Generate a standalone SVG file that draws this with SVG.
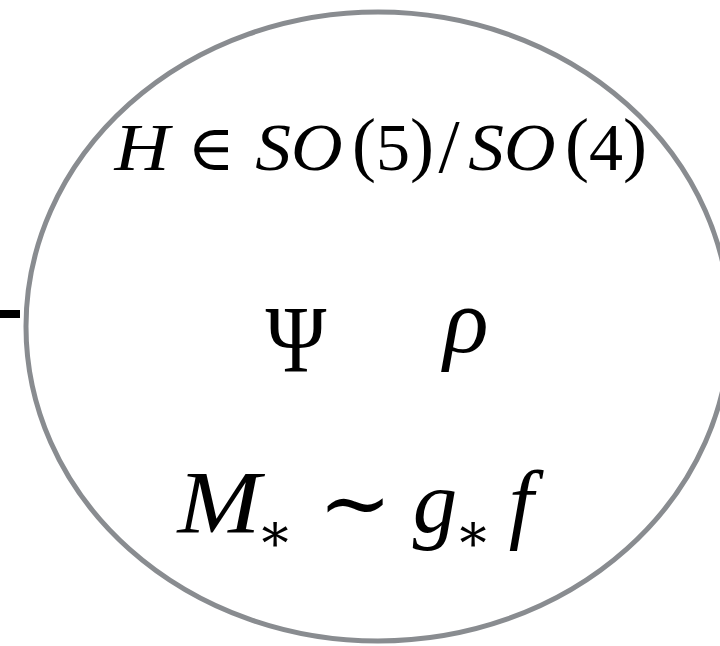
<svg xmlns="http://www.w3.org/2000/svg" width="720" height="646" viewBox="0 0 720 646">
<style>
.m{font-family:"Liberation Serif","DejaVu Serif",serif;fill:#000}
.i{font-style:italic}
.sym{font-family:"DejaVu Serif","Liberation Serif",serif;fill:#000}
.p{font-size:72px}
</style>
<rect width="720" height="646" fill="#fff"/>
<g id="connectors">
<line x1="0" y1="314" x2="20" y2="314" stroke="#000" stroke-width="8"/>
</g>
<g id="node-strong-sector">
<ellipse cx="378" cy="326.5" rx="352" ry="314.5" fill="none" stroke="#898c90" stroke-width="5"/>
<g font-size="68" text-anchor="middle">
<text class="m i" transform="translate(142,170) scale(1.12,1)">H</text>
<text class="sym" x="211" y="170" font-size="64">∈</text>
<text class="m i" transform="translate(299,170) scale(1.05,1)">SO</text>
<text class="m" x="393" y="170"><tspan class="p" dy="-2">(</tspan><tspan dy="2">5</tspan><tspan class="p" dy="-2">)</tspan></text>
<text class="m" x="449" y="172" font-size="76">/</text>
<text class="m i" transform="translate(512,170) scale(1.05,1)">SO</text>
<text class="m" x="606" y="170"><tspan class="p" dy="-2">(</tspan><tspan dy="2">4</tspan><tspan class="p" dy="-2">)</tspan></text>
</g>
<text class="m" transform="translate(296,372) scale(0.86,1)" font-size="96" text-anchor="middle">Ψ</text>
<text class="m i" x="466" y="352" font-size="94" text-anchor="middle">ρ</text>
<text class="m i" transform="translate(219,532) scale(1.12,1)" font-size="89" text-anchor="middle">M</text>
<text class="sym" x="275" y="551" font-size="54" text-anchor="middle">∗</text>
<text class="sym" x="355" y="533" font-size="88" text-anchor="middle">∼</text>
<text class="m i" x="435" y="532" font-size="89" text-anchor="middle">g</text>
<text class="sym" x="473" y="551" font-size="54" text-anchor="middle">∗</text>
<text class="m i" x="521" y="532" font-size="89" text-anchor="middle">f</text>
</g>
</svg>
